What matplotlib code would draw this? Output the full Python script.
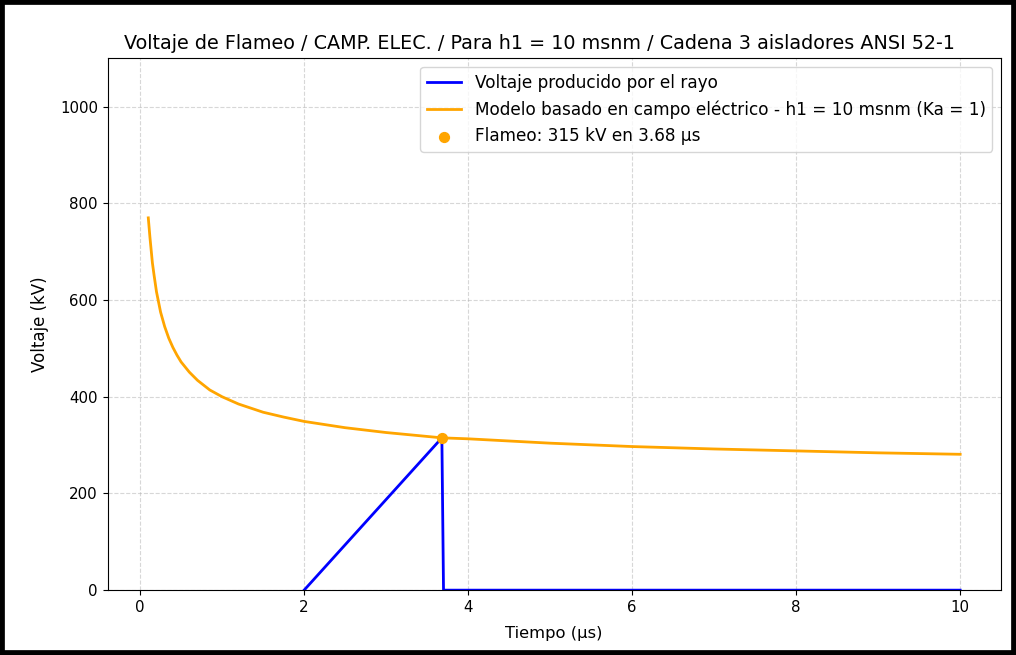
import numpy as np
import matplotlib
matplotlib.use("Agg")
import matplotlib.pyplot as plt
from matplotlib.patches import Rectangle

# curva del modelo
t_model = [0.1, 0.12, 0.15, 0.17, 0.2, 0.25, 0.3, 0.35, 0.4, 0.45, 0.5, 0.6,
           0.7, 0.85, 1.0, 1.2, 1.5, 1.75, 2.0, 2.5, 3.0, 3.68, 4.0, 5.0,
           6.0, 7.0, 8.0, 9.0, 10.0]
v_model = [770, 730, 677, 652, 617, 575, 545, 521, 502, 486, 472, 451,
           434, 414, 400, 385, 368, 358, 349, 336, 326, 315, 313, 304,
           297, 292, 288, 284, 281]

# voltaje del rayo
t_rayo = [2.0, 3.68, 3.70, 10.0]
v_rayo = [0, 315, 0, 0]

t_flameo = 3.68
v_flameo = 315

fig = plt.figure(figsize=(10.16, 6.55), dpi=100)
ax = fig.add_axes([0.106, 0.099, 0.879, 0.812])

ax.plot(t_rayo, v_rayo, color="blue", lw=2, label="Voltaje producido por el rayo")
ax.plot(t_model, v_model, color="orange", lw=2,
        label="Modelo basado en campo eléctrico - h1 = 10 msnm (Ka = 1)")
ax.scatter([t_flameo], [v_flameo], color="orange", s=50, zorder=5,
           label="Flameo: 315 kV en 3.68 µs")

ax.set_ylim(0, 1100)
ax.set_title("Voltaje de Flameo / CAMP. ELEC. / Para h1 = 10 msnm / Cadena 3 aisladores ANSI 52-1",
             fontsize=13.8, pad=7, x=0.483)
ax.set_xlabel("Tiempo (µs)", fontsize=11.8, labelpad=8)
ax.set_ylabel("Voltaje (kV)", fontsize=12, labelpad=8)
ax.tick_params(labelsize=10.8)
ax.grid(True, linestyle="--", alpha=0.5)
ax.legend(loc="upper right", fontsize=12.2)

# marco negro alrededor de la imagen
fig.patches.append(Rectangle((0, 0), 1, 1, transform=fig.transFigure,
                             fill=False, lw=7, edgecolor="black"))

fig.savefig("out.png", dpi=100)
